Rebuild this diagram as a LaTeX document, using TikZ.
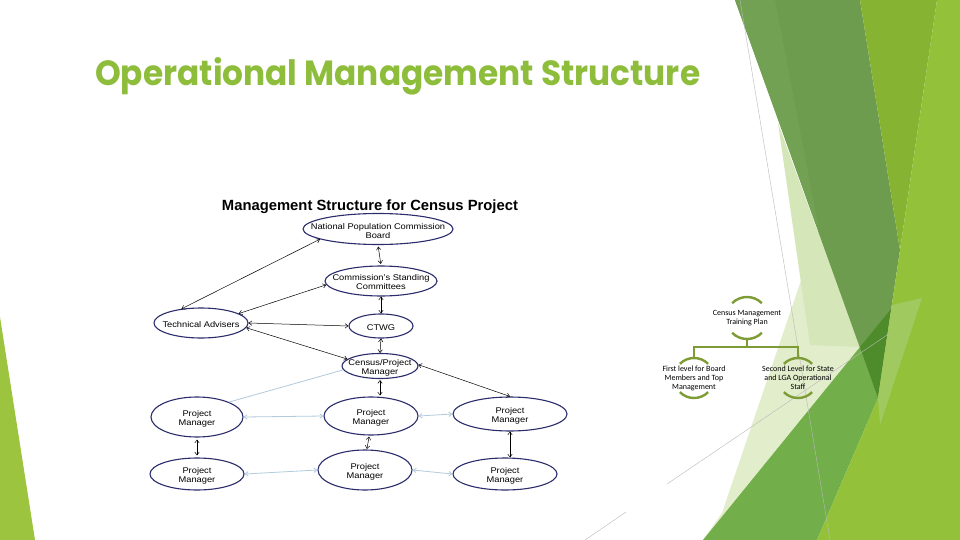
\documentclass[tikz,border=0pt]{standalone}
\usepackage{fontspec}
\setmainfont{Liberation Sans}
\newfontfamily\diagfont{Liberation Sans}[FakeStretch=1.12]
\newfontfamily\titlefont{Poppins}
\newfontfamily\smartfont{Carlito}
\usetikzlibrary{shapes.geometric,arrows.meta}
\definecolor{titlegreen}{HTML}{8EBD3B}
\definecolor{navyline}{HTML}{2B2C6B}
\definecolor{lblue}{HTML}{B2CBDD}
\definecolor{olive}{HTML}{7E9C35}
\definecolor{cD}{HTML}{6E9C4F}
\definecolor{cDl}{HTML}{73A154}
\definecolor{cY}{HTML}{86B432}
\definecolor{cB}{HTML}{93C23A}
\definecolor{cM}{HTML}{72AE4A}
\definecolor{cO}{HTML}{4E8B2B}
\definecolor{cPa}{HTML}{D5E6B8}
\definecolor{cPb}{HTML}{E2EDCC}
\definecolor{cL}{HTML}{A0C960}
\definecolor{cLeft}{HTML}{9CC43E}
\tikzset{
  ell/.style={ellipse, draw=navyline, line width=1.1pt, fill=white, inner sep=0pt},
  lbl/.style={font=\diagfont\fontsize{8.3}{9}\selectfont, align=center, inner sep=0pt, yshift=-1.5pt},
  barb/.style={{Straight Barb[length=3pt,width=4.5pt]}-{Straight Barb[length=3pt,width=4.5pt]}},
  arr/.style={draw=black, line width=0.5pt, barb},
  barr/.style={draw=lblue, line width=0.8pt, barb},
  bline/.style={draw=lblue, line width=0.8pt},
  ring/.style={circle, inner sep=0pt},
  arcline/.style={draw=olive, line width=2.4pt},
  smartlbl/.style={font=\smartfont\fontsize{8}{9}\selectfont, align=center, inner sep=0pt},
  thin gray/.style={draw=gray!55, line width=0.4pt}
}
\begin{document}
\begin{tikzpicture}[x=1pt,y=-1pt]
\useasboundingbox (0,0) rectangle (960,540);
\fill[white] (0,0) rectangle (960,540);
% ---- background facets ----
\fill[cLeft] (0,317) -- (35,540) -- (0,540) -- cycle;
\fill[cPb] (830,195) -- (900,400) -- (703,540) -- (722,513) -- cycle;
\fill[cPa] (778,123) -- (860,347) -- (810,345) -- cycle;
\fill[cM] (703,540) -- (860,347) -- (878,398) -- (817,540) -- cycle;
\fill[cD] (735,0) -- (860,0) -- (900,250) -- (878,398) -- cycle;
\fill[cDl] (735,0) -- (775,0) -- (820,235) -- cycle;
\fill[cO] (860,347) -- (891,309) -- (878,398) -- cycle;
\fill[cY] (860,0) -- (937,0) -- (900,250) -- cycle;
\fill[cB] (937,0) -- (960,0) -- (960,540) -- (817,540) -- (878,398) -- (900,250) -- cycle;
\fill[cL] (892,305) -- (922,298) -- (880,425) -- (878,398) -- cycle;
\draw[thin gray] (740,0) -- (830,540);
\draw[thin gray] (585,540) -- (626,512);
\draw[thin gray] (667,484) -- (890,333);
% ---- title ----
\node[anchor=base west, inner sep=0pt, text=titlegreen] (title) at (95,86)
  {\resizebox{605pt}{28pt}{\titlefont\bfseries Operational Management Structure}};
% ---- diagram ----
\node[inner sep=0pt] (dtitle) at (370,207)
  {\resizebox{296pt}{!}{\bfseries Management Structure for Census Project}};
\node[ell, minimum width=150pt, minimum height=31pt] (npc) at (378,229) {};
\node[lbl, yshift=-1pt] (npct) at (npc) {National Population Commission\\Board};
\node[ell, minimum width=112pt, minimum height=30pt] (csc) at (381,281) {};
\node[lbl] (csct) at (csc) {Commission’s Standing\\Committees};
\node[ell, minimum width=94pt, minimum height=30pt] (ta) at (201,323) {};
\node[lbl] (tat) at (ta) {Technical Advisers};
\node[ell, minimum width=64pt, minimum height=24pt] (ctwg) at (381,326) {};
\node[lbl] (ctwgt) at (ctwg) {CTWG};
\node[ell, minimum width=76pt, minimum height=25pt] (cpm) at (380,366) {};
\node[lbl] (cpmt) at (cpm) {Census/Project\\Manager};
\node[ell, minimum width=92pt, minimum height=40pt] (pml) at (197,417) {};
\node[lbl] (pmlt) at (pml) {Project\\Manager};
\node[ell, minimum width=94pt, minimum height=38pt] (pmm) at (371,416) {};
\node[lbl] (pmmt) at (pmm) {Project\\Manager};
\node[ell, minimum width=114pt, minimum height=34pt] (pmr) at (510,414) {};
\node[lbl] (pmrt) at (pmr) {Project\\Manager};
\node[ell, minimum width=94pt, minimum height=32pt] (qml) at (197,474) {};
\node[lbl] (qmlt) at (qml) {Project\\Manager};
\node[ell, minimum width=94pt, minimum height=40pt] (qmm) at (365,470) {};
\node[lbl] (qmmt) at (qmm) {Project\\Manager};
\node[ell, minimum width=104pt, minimum height=32pt] (qmr) at (505,474) {};
\node[lbl] (qmrt) at (qmr) {Project\\Manager};
% connectors
\draw[arr, shorten <=1.5pt, shorten >=1.5pt] (npc.south) -- (csc.north);
\draw[arr] (npc.190) -- (ta.144);
\draw[arr] (csc.184) -- (ta.14);
\draw[arr] (ta.east) -- (ctwg.west);
\draw[arr] (csc.south) -- (ctwg.north);
\draw[arr] (ctwg.south) -- (cpm.north);
\draw[arr] (ta.354) -- (cpm.168);
\draw[arr, shorten <=1pt, shorten >=1pt] (cpm.south) -- (cpm.south |- pmm.north);
\draw[arr] (cpm.2) -- (pmr.north);
\draw[bline] (cpm.186) -- (pml.25);
\draw[barr] (pml.east) -- (pmm.west);
\draw[barr] (pmm.east) -- (pmr.west);
\draw[arr, shorten <=2pt, shorten >=2pt] (pml.south) -- (qml.north);
\draw[arr, shorten <=1pt, shorten >=0.5pt] (pmm.265) -- (qmm.85);
\draw[arr] (pmr.south) -- (pmr.south |- qmr.north);
\draw[barr] (qml.east) -- (qmm.west);
\draw[barr] (qmm.east) -- (qmr.west);
% ---- smart art ----
\node[ring, minimum size=42pt] (tp) at (747,318) {};
\node[ring, minimum size=40pt] (c1) at (694,378) {};
\node[ring, minimum size=40pt] (c2) at (798,378) {};
\draw[arcline] (tp) ++(45:21) arc[start angle=45, end angle=135, radius=21];
\draw[arcline] (tp) ++(225:21) arc[start angle=225, end angle=315, radius=21];
\draw[arcline] (c1) ++(45:20) arc[start angle=45, end angle=135, radius=20];
\draw[arcline] (c1) ++(225:20) arc[start angle=225, end angle=315, radius=20];
\draw[arcline] (c2) ++(45:20) arc[start angle=45, end angle=135, radius=20];
\draw[arcline] (c2) ++(225:20) arc[start angle=225, end angle=315, radius=20];
\draw[olive, line width=2.4pt] (tp.south) -- ++(0,8) -| (c1.north);
\draw[olive, line width=2.4pt] (tp.south) -- ++(0,8) -| (c2.north);
\node[smartlbl] (tpt) at (tp) {Census Management\\Training Plan};
\node[smartlbl] (c1t) at (c1) {First level for Board\\Members and Top\\Management};
\node[smartlbl] (c2t) at (c2) {Second Level for State\\and LGA Operational\\Staff};
\end{tikzpicture}
\end{document}
